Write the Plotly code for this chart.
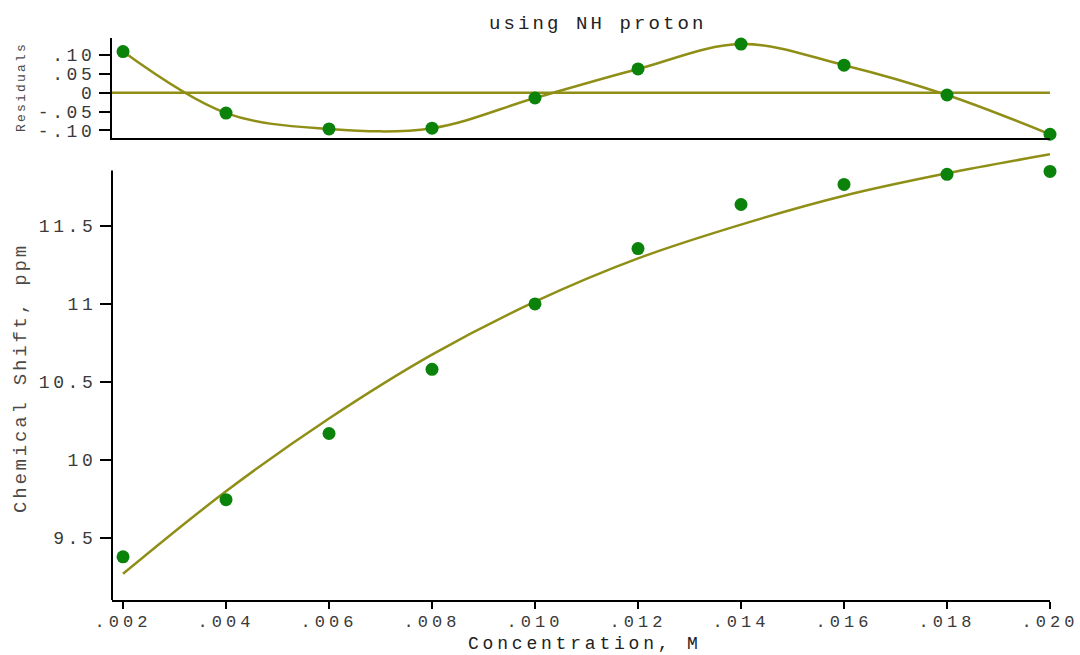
import plotly.graph_objects as go

# Concentration series (M) and measured NH chemical shifts (ppm)
concentration = [0.002, 0.004, 0.006, 0.008, 0.010, 0.012, 0.014, 0.016, 0.018, 0.020]
chemical_shift = [9.376, 9.743, 10.168, 10.580, 11.000, 11.355, 11.638, 11.767, 11.832, 11.850]
# Fitted binding curve evaluated at each concentration
fitted_shift = [9.267, 9.797, 10.264, 10.674, 11.014, 11.292, 11.509, 11.694, 11.838, 11.960]
# Residuals of the fit (observed - fitted)
residuals = [0.109, -0.054, -0.096, -0.094, -0.014, 0.063, 0.129, 0.073, -0.006, -0.110]

x_tick_vals = [0.002, 0.004, 0.006, 0.008, 0.010, 0.012, 0.014, 0.016, 0.018, 0.020]
x_tick_text = [".002", ".004", ".006", ".008", ".010", ".012", ".014", ".016", ".018", ".020"]
y_tick_vals = [9.5, 10, 10.5, 11, 11.5]
y_tick_text = ["9.5", "10", "10.5", "11", "11.5"]
res_tick_vals = [0.10, 0.05, 0, -0.05, -0.10]
res_tick_text = [".10", ".05", "0", "-.05", "-.10"]

LINE_COLOR = "#8f8f17"
MARKER_COLOR = "#0b830b"
MONO = "Liberation Mono"
TICK_FONT = dict(family=MONO, size=18, color="#3a3a3a")


def spaced(text, px=3.6):
    return f'<span style="letter-spacing:{px}px">{text}</span>'


fig = go.Figure()

# Main panel: fitted curve and observations
fig.add_trace(go.Scatter(
    x=concentration, y=fitted_shift, mode="lines",
    line=dict(color=LINE_COLOR, width=2.5, shape="spline", smoothing=1.0),
    xaxis="x", yaxis="y", hoverinfo="skip", showlegend=False))
fig.add_trace(go.Scatter(
    x=concentration, y=chemical_shift, mode="markers",
    marker=dict(color=MARKER_COLOR, size=13),
    xaxis="x", yaxis="y", showlegend=False, cliponaxis=False))

# Residual panel
fig.add_trace(go.Scatter(
    x=concentration, y=residuals, mode="lines",
    line=dict(color=LINE_COLOR, width=2.5, shape="spline", smoothing=1.0),
    xaxis="x2", yaxis="y2", hoverinfo="skip", showlegend=False))
fig.add_trace(go.Scatter(
    x=concentration, y=residuals, mode="markers",
    marker=dict(color=MARKER_COLOR, size=13),
    xaxis="x2", yaxis="y2", showlegend=False, cliponaxis=False))

x_range = [0.001786, 0.020]
shift_axis_span = [9.099, 11.856]       # extent of the drawn y axis line
shift_range = [9.099, 11.975]           # room above for the fitted curve
plot_h = 562
bottom_top = (600 - 152) / plot_h
top_start = (600 - 138) / plot_h

fig.update_layout(
    width=1080, height=655,
    margin=dict(l=112, r=30, t=38, b=55, autoexpand=False),
    paper_bgcolor="white", plot_bgcolor="white",
    xaxis=dict(
        domain=[0, 1], range=x_range, anchor="y", automargin=False,
        showgrid=False, zeroline=False,
        showline=True, linecolor="black", linewidth=2,
        ticks="outside", ticklen=7, tickwidth=2, tickcolor="black",
        ticklabelstandoff=-2,
        tickvals=x_tick_vals, ticktext=[spaced(t, 4.0) for t in x_tick_text],
        tickfont=dict(family=MONO, size=17, color="#3a3a3a")),
    yaxis=dict(
        domain=[0, bottom_top], range=shift_range, anchor="x", automargin=False,
        showgrid=False, zeroline=False, showline=False,
        ticks="outside", ticklen=11, tickwidth=2, tickcolor="black",
        tickvals=y_tick_vals, ticktext=[spaced(t) for t in y_tick_text],
        tickfont=TICK_FONT),
    xaxis2=dict(
        domain=[0, 1], range=x_range, anchor="y2", matches="x", automargin=False,
        showgrid=False, zeroline=False,
        showline=True, linecolor="black", linewidth=2,
        ticks="", showticklabels=False),
    yaxis2=dict(
        domain=[top_start, 1], range=[-0.12, 0.145], anchor="x2", automargin=False,
        showgrid=False, zeroline=False,
        showline=True, linecolor="black", linewidth=2,
        ticks="outside", ticklen=11, tickwidth=2, tickcolor="black",
        tickvals=res_tick_vals, ticktext=[spaced(t) for t in res_tick_text],
        tickfont=TICK_FONT),
    shapes=[
        # zero reference for residuals
        dict(type="line", xref="x2 domain", yref="y2",
             x0=0, x1=1, y0=0, y1=0,
             line=dict(color=LINE_COLOR, width=2.5), layer="below"),
        # left axis line of the chemical shift panel
        dict(type="line", xref="x domain", yref="y",
             x0=0, x1=0, y0=shift_axis_span[0], y1=shift_axis_span[1],
             line=dict(color="black", width=2)),
    ],
    annotations=[
        dict(text=spaced("using NH proton", 3.1), xref="paper", yref="paper",
             x=(598 - 112) / 938, y=1 + 14 / plot_h, xanchor="center", yanchor="middle",
             showarrow=False, font=dict(family=MONO, size=19, color="#222222")),
        dict(text=spaced("Chemical Shift, ppm", 2.8), xref="paper", yref="paper",
             x=-91 / 938, y=(600 - 378) / plot_h, xanchor="center", yanchor="middle",
             textangle=-90, showarrow=False,
             font=dict(family=MONO, size=19, color="#4a4a4a")),
        dict(text=spaced("Residuals", 2.2), xref="paper", yref="paper",
             x=-91 / 938, y=(600 - 87) / plot_h, xanchor="center", yanchor="middle",
             textangle=-90, showarrow=False,
             font=dict(family=MONO, size=13, color="#4a4a4a")),
        dict(text=spaced("Concentration, M", 3.8), xref="paper", yref="paper",
             x=(585 - 112) / 938, y=-(644 - 600) / plot_h, xanchor="center", yanchor="middle",
             showarrow=False, font=dict(family=MONO, size=18, color="#222222")),
    ],
)

fig.write_html("out.html")
